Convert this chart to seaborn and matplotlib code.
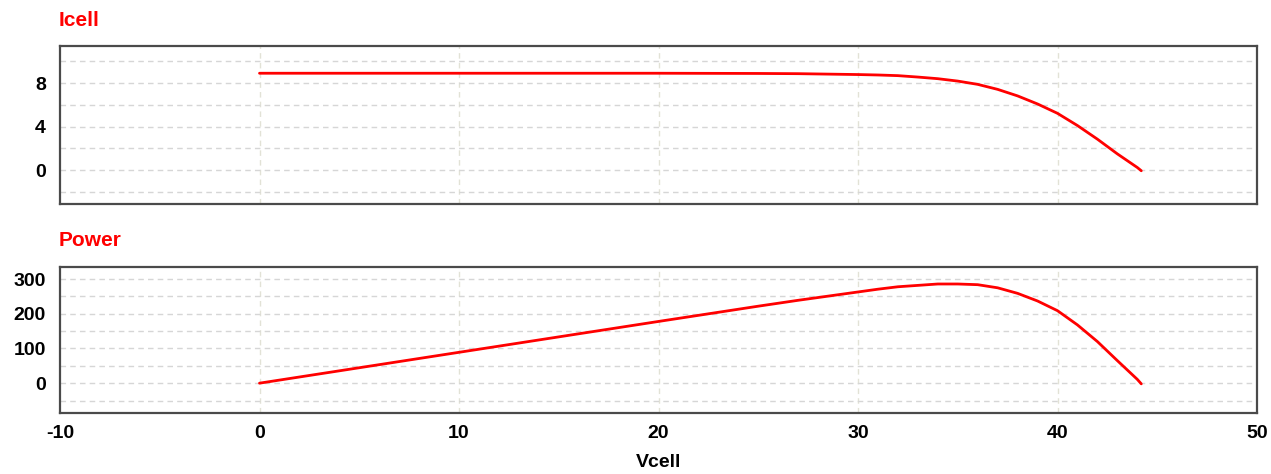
import matplotlib
matplotlib.use("Agg")
import matplotlib.pyplot as plt
import seaborn as sns
import pandas as pd
from matplotlib.ticker import MultipleLocator, FixedLocator

# Data
vcell = [0, 5, 10, 15, 20, 25, 27, 30, 31, 32, 33, 34, 35, 36, 37, 38, 39, 40, 41, 42, 43, 44, 44.2]
icell = [8.9, 8.9, 8.9, 8.9, 8.9, 8.88, 8.86, 8.78, 8.74, 8.68, 8.55, 8.4, 8.18, 7.88, 7.42, 6.82,
         6.08, 5.22, 4.1, 2.85, 1.5, 0.25, -0.05]
power = [0, 44.5, 89, 133.5, 178, 222, 239, 263, 271, 278, 282, 286, 286, 284, 275, 259,
         237, 209, 168, 120, 65, 11, -2]

x_ticks = [-10, 0, 10, 20, 30, 40, 50]
i_ticks = [0, 4, 8]
p_ticks = [0, 100, 200, 300]

df = pd.DataFrame({"Vcell": vcell, "Icell": icell, "Power": power})

sns.set_style("white")
plt.rcParams["font.family"] = ["Liberation Sans", "DejaVu Sans"]
plt.rcParams["axes.unicode_minus"] = False

fig = plt.figure(figsize=(12.71, 4.74), dpi=100)
ax1 = fig.add_axes([60 / 1271, 1 - 204 / 474, 1197 / 1271, 158 / 474])
ax2 = fig.add_axes([60 / 1271, 1 - 413 / 474, 1197 / 1271, 146 / 474])

red = "#ff0000"
sns.lineplot(data=df, x="Vcell", y="Icell", ax=ax1, color=red, linewidth=2.0, sort=False)
sns.lineplot(data=df, x="Vcell", y="Power", ax=ax2, color=red, linewidth=2.0, sort=False)

def style(ax, ylim, yticks, minor):
    ax.set_xlim(-10, 50)
    ax.set_ylim(*ylim)
    ax.xaxis.set_major_locator(FixedLocator(x_ticks))
    ax.yaxis.set_major_locator(FixedLocator(yticks))
    ax.yaxis.set_minor_locator(MultipleLocator(minor))
    ax.tick_params(axis="both", which="both", length=0, labelcolor="black")
    ax.tick_params(axis="y", pad=10)
    ax.tick_params(axis="x", pad=9)
    for lab in ax.get_xticklabels() + ax.get_yticklabels():
        lab.set_fontweight("bold")
        lab.set_fontsize(14)
    ax.grid(False)
    ax.yaxis.grid(True, which="both", linestyle=(0, (4, 3)), color="#d6d6d6", linewidth=1.0)
    for xv in [0, 10, 20, 30, 40]:
        ax.axvline(xv, linestyle=(0, (4, 3)), color="#e2e2d6", linewidth=1.0, zorder=0)
    for s in ax.spines.values():
        s.set_color("#4a4a4a")
        s.set_linewidth(1.6)
    ax.set_ylabel("")

style(ax1, (-3.1, 11.4), i_ticks, 2)
style(ax2, (-86, 335), p_ticks, 50)

ax1.set_xlabel("")
ax1.tick_params(axis="x", labelbottom=False)
ax2.set_xlabel("Vcell", fontsize=14, fontweight="bold", labelpad=8, color="black")

fig.text(59 / 1271, 1 - 20 / 474, "Icell", color=red, fontsize=15, fontweight="bold", va="center", ha="left")
fig.text(59 / 1271, 1 - 241 / 474, "Power", color=red, fontsize=15, fontweight="bold", va="center", ha="left")

fig.savefig("out.png", dpi=100, facecolor="white")
